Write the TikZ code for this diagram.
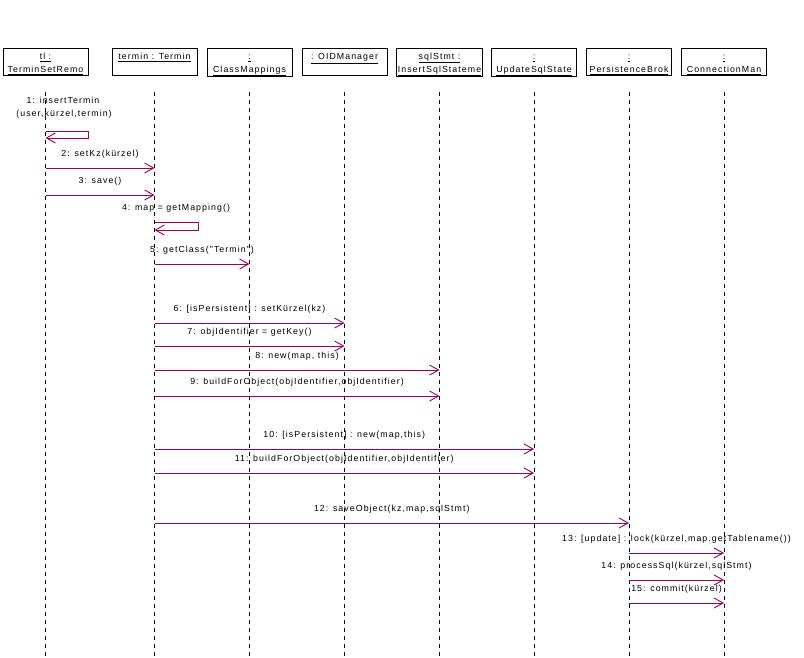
\documentclass[tikz,border=0pt]{standalone}
\usepackage{fontspec}
\newfontfamily\diagfont[LetterSpace=12]{Liberation Sans}
\usetikzlibrary{arrows.meta}
\definecolor{msgcol}{RGB}{160,0,85}
\newcommand{\topln}{\rule{0pt}{10.5pt}}
\newcommand{\botln}{\rule[-2pt]{0pt}{2pt}}
\begin{document}
\begin{tikzpicture}[x=1pt,y=-1pt,
  every node/.style={font=\diagfont\fontsize{8.8}{13}\selectfont},
  head/.style={draw=black,line width=0.8pt,minimum width=85pt,minimum height=27pt,
     inner xsep=1pt,inner ysep=0.5pt,align=center,anchor=north,fill=white},
  life/.style={draw=black,line width=0.8pt,dash pattern=on 4pt off 4pt},
  msg/.style={draw=msgcol,line width=0.9pt,-{Straight Barb[length=9pt,width=10pt]}},
  lbl/.style={inner sep=0pt,yshift=14pt,fill=none}]
\useasboundingbox (0,0) rectangle (804,657);
% heads
\node[head] (h1) at (45.5,48) {\topln\underline{tl :}\\\underline{TerminSetRemo}\botln};
\node[head] (h2) at (154.5,48) {\topln\underline{termin : Termin}\\\botln};
\node[head] (h3) at (249.5,48) {\topln\underline{:}\\\underline{ClassMappings}\botln};
\node[head] (h4) at (344.5,48) {\topln\underline{: OIDManager}\\\botln};
\node[head] (h5) at (439.5,48) {\topln\underline{sqlStmt :}\\\underline{InsertSqlStateme}\botln};
\node[head] (h6) at (534,48) {\topln\underline{:}\\\underline{UpdateSqlState}\botln};
\node[head] (h7) at (629,48) {\topln\underline{:}\\\underline{PersistenceBrok}\botln};
\node[head] (h8) at (724,48) {\topln\underline{:}\\\underline{ConnectionMan}\botln};
% lifelines
\coordinate (top) at (0,92);
\coordinate (bot) at (0,657);
\foreach \i in {1,...,8}{
  \draw[life] (h\i |- top) -- (h\i |- bot);
}
% message 1 (self)
\coordinate (s1a) at (h1 |- 0,131);
\coordinate (s1b) at (h1 |- 0,138);
\node[inner sep=0pt] (l1a) at (63,100) {1: insertTermin};
\node[inner sep=0pt] (l1b) at (64,114) {(user,kürzel,termin)};
\draw[msg] (s1a) -- ++(43,0) |- (s1b);
% message 2
\coordinate (a2) at (h1 |- 0,168); \coordinate (b2) at (h2 |- 0,168);
\draw[msg] (a2) -- (b2) node[lbl,midway] {2: setKz(kürzel)};
% message 3
\coordinate (a3) at (h1 |- 0,195); \coordinate (b3) at (h2 |- 0,195);
\draw[msg] (a3) -- (b3) node[lbl,midway] {3: save()};
% message 4 (self)
\coordinate (s4a) at (h2 |- 0,222);
\coordinate (s4b) at (h2 |- 0,230);
\node[inner sep=0pt] (l4) at (176,208) {4: map = getMapping()};
\draw[msg] (s4a) -- ++(44,0) |- (s4b);
% message 5
\coordinate (a5) at (h2 |- 0,264); \coordinate (b5) at (h3 |- 0,264);
\draw[msg] (a5) -- (b5) node[lbl,midway] {5: getClass("Termin")};
% message 6
\coordinate (a6) at (h2 |- 0,323); \coordinate (b6) at (h4 |- 0,323);
\draw[msg] (a6) -- (b6) node[lbl,midway] {6: [isPersistent] : setKürzel(kz)};
% message 7
\coordinate (a7) at (h2 |- 0,346); \coordinate (b7) at (h4 |- 0,346);
\draw[msg] (a7) -- (b7) node[lbl,midway] {7: objIdentifier = getKey()};
% message 8
\coordinate (a8) at (h2 |- 0,370); \coordinate (b8) at (h5 |- 0,370);
\draw[msg] (a8) -- (b8) node[lbl,midway] {8: new(map, this)};
% message 9
\coordinate (a9) at (h2 |- 0,396); \coordinate (b9) at (h5 |- 0,396);
\draw[msg] (a9) -- (b9) node[lbl,midway] {9: buildForObject(objIdentifier,objIdentifier)};
% message 10
\coordinate (a10) at (h2 |- 0,449); \coordinate (b10) at (h6 |- 0,449);
\draw[msg] (a10) -- (b10) node[lbl,midway] {10: [isPersistent] : new(map,this)};
% message 11
\coordinate (a11) at (h2 |- 0,473); \coordinate (b11) at (h6 |- 0,473);
\draw[msg] (a11) -- (b11) node[lbl,midway] {11: buildForObject(objIdentifier,objIdentifier)};
% message 12
\coordinate (a12) at (h2 |- 0,523); \coordinate (b12) at (h7 |- 0,523);
\draw[msg] (a12) -- (b12) node[lbl,midway] {12: saveObject(kz,map,sqlStmt)};
% message 13
\coordinate (a13) at (h7 |- 0,553); \coordinate (b13) at (h8 |- 0,553);
\draw[msg] (a13) -- (b13) node[lbl,midway] {13: [update] : lock(kürzel,map.getTablename())};
% message 14
\coordinate (a14) at (h7 |- 0,580); \coordinate (b14) at (h8 |- 0,580);
\draw[msg] (a14) -- (b14) node[lbl,midway] {14: processSql(kürzel,sqlStmt)};
% message 15
\coordinate (a15) at (h7 |- 0,603); \coordinate (b15) at (h8 |- 0,603);
\draw[msg] (a15) -- (b15) node[lbl,midway] {15: commit(kürzel)};
\end{tikzpicture}
\end{document}
